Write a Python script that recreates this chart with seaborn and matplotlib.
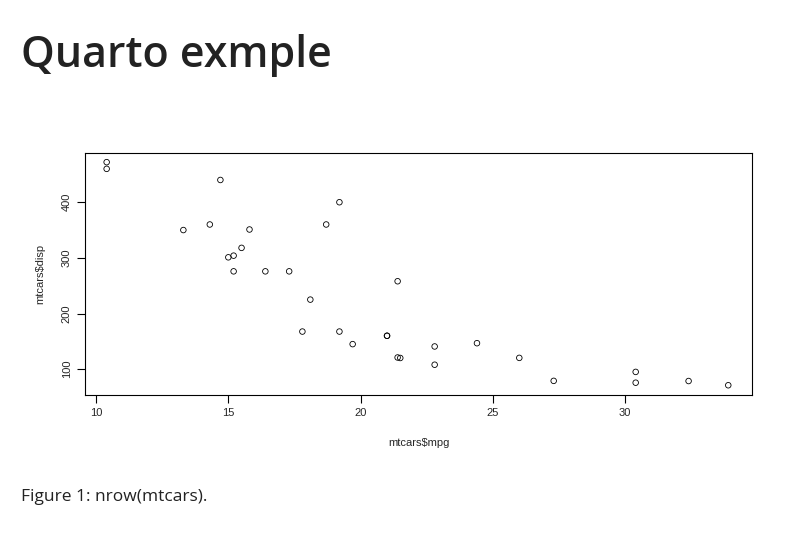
import matplotlib
matplotlib.use("Agg")
import matplotlib.pyplot as plt
import seaborn as sns
import pandas as pd

mpg = [21.0,21.0,22.8,21.4,18.7,18.1,14.3,24.4,22.8,19.2,17.8,16.4,17.3,15.2,10.4,10.4,
       14.7,32.4,30.4,33.9,21.5,15.5,15.2,13.3,19.2,27.3,26.0,30.4,15.8,19.7,15.0,21.4]
disp = [160,160,108,258,360,225,360,146.7,140.8,167.6,167.6,275.8,275.8,275.8,472,460,
        440,78.7,75.7,71.1,120.1,318,304,350,400,79,120.3,95.1,351,145,301,121]
df = pd.DataFrame({"mpg": mpg, "disp": disp})

sns.set_style("white")
plt.rcParams['font.family'] = ['Liberation Sans', 'DejaVu Sans']
fig = plt.figure(figsize=(7.95, 5.34), dpi=100)
ax = fig.add_axes([0.107, 0.260, 0.839, 0.453])
sns.scatterplot(data=df, x="mpg", y="disp", ax=ax, marker="o", s=16,
                facecolor="none", edgecolor="black", linewidth=0.6)
ax.set_xlim(9.584, 34.8)
ax.set_ylim(53.3, 488)
ax.set_xticks([10, 15, 20, 25, 30])
ax.set_yticks([100, 200, 300, 400])
ax.tick_params(direction="out", length=6, width=0.8, labelsize=8, left=True, bottom=True, color="black")
for lab in ax.get_yticklabels():
    lab.set_rotation(90); lab.set_va("center")
for s in ax.spines.values():
    s.set_color("black"); s.set_linewidth(0.8)
ax.set_xlabel("mtcars$mpg", fontsize=8, labelpad=14)
ax.set_ylabel("mtcars$disp", fontsize=8, labelpad=12)
fig.text(0.027, 0.875, "Quarto exmple", fontsize=31, fontweight="semibold", color="#222222",
         family=["Open Sans", "DejaVu Sans"])
fig.text(0.027, 0.061, "Figure 1: nrow(mtcars).", fontsize=12.5, color="#222222",
         family=["Open Sans", "DejaVu Sans"])
fig.savefig("out.png", dpi=100)
